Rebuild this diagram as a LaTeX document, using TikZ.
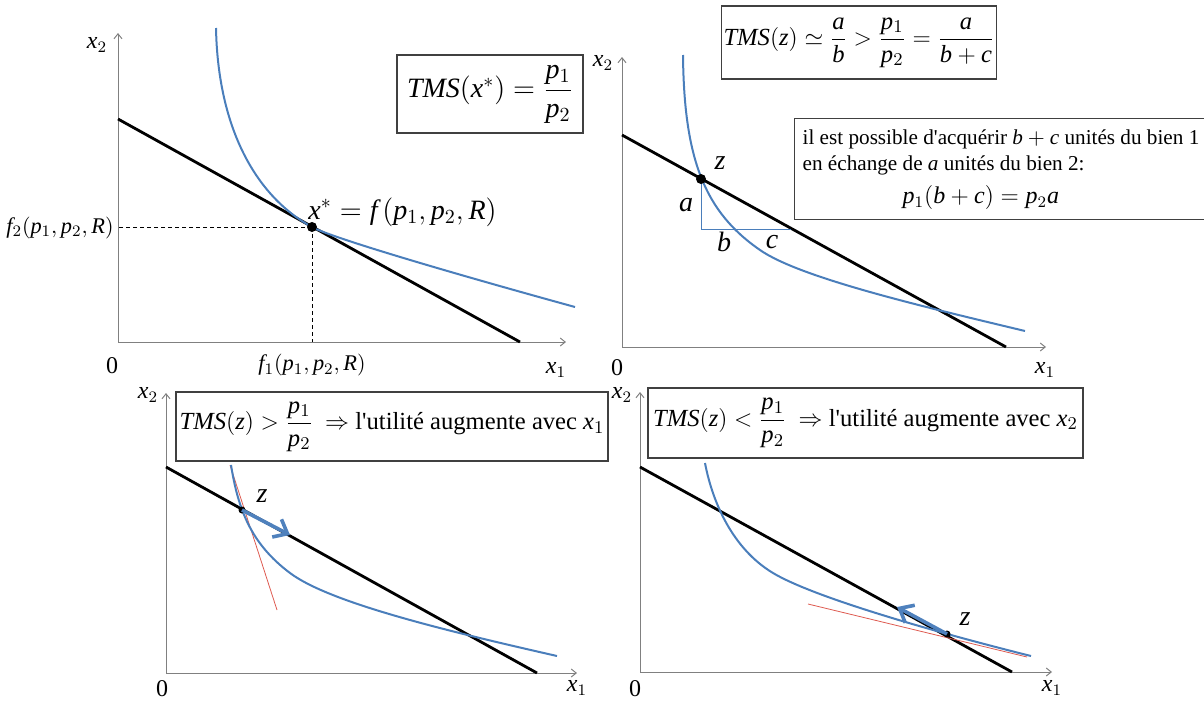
\documentclass[tikz,border=0pt]{standalone}
\usepackage{amsmath}
\usepackage{fontspec}
\setmainfont{Liberation Serif}[Ligatures=TeXOff]
\DeclareSymbolFont{tletters}{TU}{\rmdefault}{m}{it}
\newcount\lettc
\lettc=`a \loop \Umathcode\lettc="7 \symtletters\lettc \ifnum\lettc<`z \advance\lettc by 1 \repeat
\lettc=`A \loop \Umathcode\lettc="7 \symtletters\lettc \ifnum\lettc<`Z \advance\lettc by 1 \repeat
\usetikzlibrary{arrows.meta,calc,positioning}
\definecolor{curveblue}{RGB}{74,126,187}
\definecolor{arrowblue}{RGB}{79,129,189}
\definecolor{tanred}{RGB}{222,90,80}
\definecolor{boxgray}{RGB}{64,64,64}
\tikzset{
  axis/.style={draw=gray,line width=0.5pt,-{Straight Barb[length=2.5pt,width=4pt]}},
  budget/.style={line width=1.4pt},
  indiff/.style={curveblue,line width=1pt},
  guide/.style={line width=0.4pt,dash pattern=on 2pt off 1.5pt},
  tangent/.style={tanred,line width=0.4pt},
  move/.style={arrowblue,line width=1.8pt,-{Straight Barb[length=6pt,width=10pt]}},
  boxed/.style={draw=boxgray,line width=0.6pt,inner sep=1pt,font=\fontsize{13}{15}\selectfont},
  lab/.style={inner sep=1pt,font=\fontsize{12}{14}\selectfont},
  flab/.style={inner sep=1pt,font=\fontsize{11.2}{13}\selectfont},
  biglab/.style={inner sep=1pt,font=\fontsize{14}{16}\selectfont},
  ptdot/.style={circle,fill,inner sep=0pt,minimum size=#1},
  ptdot/.default=5pt
}
\begin{document}
\begin{tikzpicture}[x=0.5pt,y=-0.5pt]
\useasboundingbox (0,0) rectangle (1204,702);

\coordinate (O1) at (118,342); \coordinate (Y1) at (118,33); \coordinate (X1) at (566,342);
\draw[axis] (O1) -- (Y1); \draw[axis] (O1) -- (X1);
\coordinate (B1a) at (118,119); \coordinate (B1b) at (520,342);
\draw[budget] (B1a) -- (B1b);
\coordinate (xs) at (312,227);
\draw[guide] (xs) -- (xs -| O1); \draw[guide] (xs) -- (xs |- O1);
\draw[indiff] (216,28) .. controls (218,130) and (257,197) .. (xs) .. controls (332,238) and (455,274) .. (575,307);
\node[ptdot] (xsdot) at (xs) {};
\node[biglab,anchor=west] (xslab) at (306,212) {$x^*=f\,(p_1,p_2,R)$};
\node[flab,anchor=east] (f2) at (116,228) {$f_2(p_1,p_2,R)$};
\node[flab,anchor=north] (f1) at (312,352) {$f_1(p_1,p_2,R)$};
\node[lab] (zero1) at (112,366) {0};
\node[lab] (x2a) at (97,45) {$x_2$};
\node[lab] (x1a) at (556,370) {$x_1$};
\node[boxed,minimum width=93pt,minimum height=39pt,font=\fontsize{14}{16}\selectfont] (tms1) at (490,94) {$TMS(x^*)=\dfrac{p_1}{p_2}$};

\coordinate (O2) at (622,347); \coordinate (Y2) at (622,57); \coordinate (X2) at (1046,347);
\draw[axis] (O2) -- (Y2); \draw[axis] (O2) -- (X2);
\coordinate (B2a) at (622,135); \coordinate (B2b) at (1006,347);
\draw[budget] (B2a) -- (B2b);
\coordinate (z2) at (701,179); \coordinate (z2low) at (701,229); \coordinate (z2end) at (791,229);
\draw[curveblue,line width=0.5pt] (z2) -- (z2low) -- (z2end);
\draw[indiff] (683,55) .. controls (684,160) and (705,212) .. (760,250) .. controls (800,278) and (925,307) .. (1025,331);
\node[ptdot] (z2dot) at (z2) {};
\node[biglab] (z2lab) at (720,163) {$z$};
\node[biglab] (alab) at (686,205) {$a$};
\node[biglab] (blab) at (724,242) {$b$};
\node[biglab] (clab) at (772,242) {$c$};
\node[lab] (zero2) at (617,368) {0};
\node[lab] (x2b) at (603,63) {$x_2$};
\node[lab] (x1b) at (1045,370) {$x_1$};
\node[boxed,minimum width=131pt,minimum height=36.5pt,font=\fontsize{12.3}{14}\selectfont] (tms2) at (859,42.5) {$TMS(z)\simeq\dfrac{a}{b}>\dfrac{p_1}{p_2}=\dfrac{a}{b+c}$};
\node[boxed,anchor=north west,minimum width=203.5pt,minimum height=49pt,inner sep=4pt,font=\fontsize{10.6}{12.8}\selectfont] (info) at (794,118) {\begin{tabular}{@{}l@{}}il est possible d'acquérir $b+c$ unités du bien 1\\ en échange de $a$ unités du bien 2:\\[4pt] \hspace*{50pt}{\fontsize{12}{14}\selectfont$p_1(b+c)=p_2a$}\end{tabular}};

\coordinate (O3) at (166,673); \coordinate (Y3) at (166,393); \coordinate (X3) at (577,673);
\draw[axis] (O3) -- (Y3); \draw[axis] (O3) -- (X3);
\coordinate (B3a) at (166,467); \coordinate (B3b) at (537,673);
\draw[budget] (B3a) -- (B3b);
\coordinate (z3) at (242,510);
\coordinate (T3a) at (230,465); \coordinate (T3b) at (277,610);
\draw[tangent] (T3a) -- (T3b);
\draw[indiff] (231,465) .. controls (238,508) and (250,543) .. (290,573) .. controls (330,603) and (447,631) .. (557,656);
\node[ptdot=3.5pt] (z3dot) at (z3) {};
\coordinate (m3) at (290,535);
\draw[move] (z3) -- (m3);
\node[biglab] (z3lab) at (262,496) {$z$};
\node[lab] (zero3) at (162,689) {0};
\node[lab] (x2c) at (148,395) {$x_2$};
\node[lab] (x1c) at (577,688) {$x_1$};
\node[boxed,minimum width=216pt,minimum height=34.5pt,font=\fontsize{12.3}{14}\selectfont] (tms3) at (392,426.5) {$TMS(z)>\dfrac{p_1}{p_2}$\ \ $\Rightarrow$ l'utilité augmente avec $x_1$};

\coordinate (O4) at (640,672); \coordinate (Y4) at (640,392); \coordinate (X4) at (1052,672);
\draw[axis] (O4) -- (Y4); \draw[axis] (O4) -- (X4);
\coordinate (B4a) at (640,467); \coordinate (B4b) at (1012,672);
\draw[budget] (B4a) -- (B4b);
\coordinate (z4) at (947,634);
\coordinate (T4a) at (808,604); \coordinate (T4b) at (1027,657);
\draw[tangent] (T4a) -- (T4b);
\draw[indiff] (705,463) .. controls (712.6,503) and (733,549) .. (773,573) .. controls (813,597) and (931,631) .. (1031,656);
\node[ptdot=3.5pt] (z4dot) at (z4) {};
\coordinate (m4) at (897,607);
\draw[move] (z4) -- (m4);
\node[biglab] (z4lab) at (965,619) {$z$};
\node[lab] (zero4) at (635,689) {0};
\node[lab] (x2d) at (622,395) {$x_2$};
\node[lab] (x1d) at (1052,688) {$x_1$};
\node[boxed,minimum width=217.5pt,minimum height=35pt,font=\fontsize{12.3}{14}\selectfont] (tms4) at (865.5,423) {$TMS(z)<\dfrac{p_1}{p_2}$\ \ $\Rightarrow$ l'utilité augmente avec $x_2$};
\end{tikzpicture}
\end{document}
